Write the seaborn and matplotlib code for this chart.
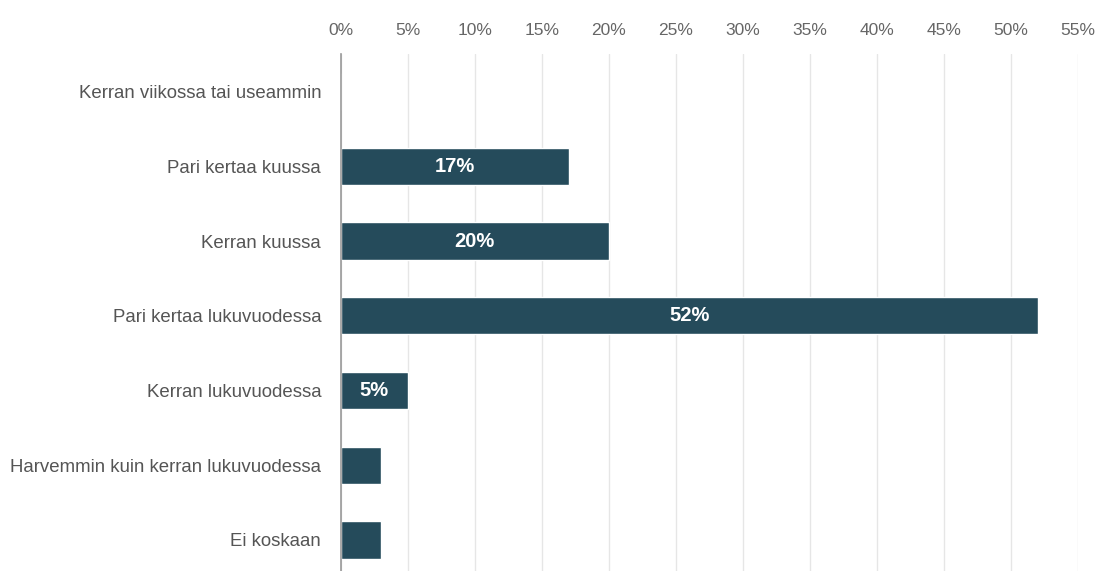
import matplotlib
matplotlib.use("Agg")
import matplotlib.pyplot as plt
import seaborn as sns
import pandas as pd

categories = [
    "Kerran viikossa tai useammin",
    "Pari kertaa kuussa",
    "Kerran kuussa",
    "Pari kertaa lukuvuodessa",
    "Kerran lukuvuodessa",
    "Harvemmin kuin kerran lukuvuodessa",
    "Ei koskaan",
]
values = [0, 17, 20, 52, 5, 3, 3]
shown_labels = ["", "17%", "20%", "52%", "5%", "", ""]
x_ticks = [0, 5, 10, 15, 20, 25, 30, 35, 40, 45, 50, 55]

sns.set_theme(style="white")
plt.rcParams["font.family"] = ["Liberation Sans", "DejaVu Sans"]

df = pd.DataFrame({"category": categories, "value": values})

fig = plt.figure(figsize=(10.99, 5.71), dpi=100)
ax = fig.add_axes([0.310, -0.011, 0.671, 0.916])

sns.barplot(data=df, x="value", y="category", orient="h", color="#254b5b",
            saturation=1, width=0.5, ax=ax, zorder=3)

ax.set_xlim(0, 55)
ax.set_ylim(6.5, -0.5)
ax.set_xticks(x_ticks)
ax.set_xticklabels([f"{t}%" for t in x_ticks], color="#666666", fontsize=12.5)
ax.xaxis.tick_top()
ax.tick_params(axis="x", length=0, pad=12)
ax.tick_params(axis="y", length=0, pad=14, labelsize=13.4, labelcolor="#555555")
ax.set_xlabel("")
ax.set_ylabel("")
ax.grid(axis="x", color="#e6e6e6", linewidth=1, zorder=0)
for s in ["top", "right", "bottom"]:
    ax.spines[s].set_visible(False)
ax.spines["left"].set_color("#999999")
ax.spines["left"].set_linewidth(1.2)
ax.spines["left"].set_zorder(4)

for cont in ax.containers:
    ax.bar_label(cont, labels=shown_labels, label_type="center", color="white",
                 fontsize=14.5, fontweight="bold")

fig.savefig("out.png", dpi=100)
